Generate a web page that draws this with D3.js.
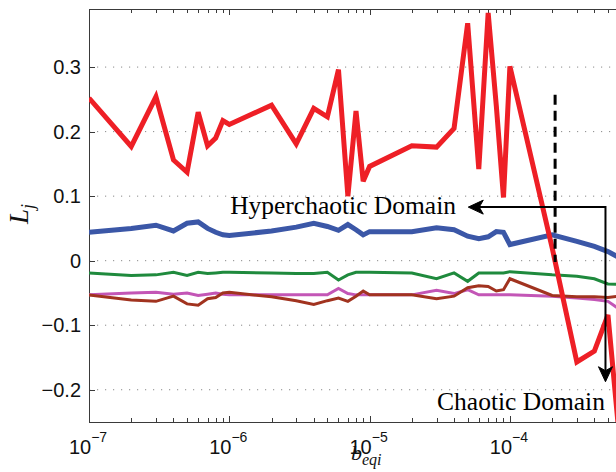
<!DOCTYPE html>
<html>
<head>
<meta charset="utf-8">
<script src="https://cdn.jsdelivr.net/npm/d3@7"></script>
<style>
  body { margin: 0; background: #fff; }
  svg { display: block; }
</style>
</head>
<body>
<svg id="chart" width="616" height="472"></svg>
<script>
// Bifurcation parameter values (b_eqi)
const bValues = [
  1e-7, 2e-7, 3e-7, 4e-7, 5e-7, 6e-7, 7e-7, 8e-7, 9e-7,
  1e-6, 2e-6, 3e-6, 4e-6, 5e-6, 6e-6, 7e-6, 8e-6, 9e-6,
  1e-5, 2e-5, 3e-5, 4e-5, 5e-5, 6e-5, 7e-5, 8e-5, 9e-5,
  1e-4, 2e-4, 3e-4, 4e-4, 5e-4, 6e-4
];

// Lyapunov exponents L1..L5
const L1 = [
  0.252, 0.177, 0.254, 0.156, 0.137, 0.230, 0.178, 0.190, 0.217,
  0.211, 0.241, 0.181, 0.236, 0.223, 0.296, 0.100, 0.232, 0.123,
  0.146, 0.178, 0.176, 0.205, 0.368, 0.142, 0.384, 0.240, 0.098,
  0.301, 0.020, -0.157, -0.140, -0.084, -0.270
];
const L2 = [
  0.044, 0.050, 0.055, 0.046, 0.058, 0.060, 0.050, 0.044, 0.040,
  0.039, 0.046, 0.052, 0.058, 0.053, 0.047, 0.056, 0.048, 0.040,
  0.045, 0.045, 0.051, 0.048, 0.038, 0.034, 0.037, 0.045, 0.044,
  0.025, 0.040, 0.030, 0.022, 0.014, 0.005
];
const L3 = [
  -0.019, -0.023, -0.022, -0.018, -0.023, -0.018, -0.020, -0.019, -0.018,
  -0.018, -0.019, -0.020, -0.020, -0.018, -0.030, -0.022, -0.018, -0.018,
  -0.018, -0.019, -0.028, -0.019, -0.032, -0.019, -0.019, -0.019, -0.019,
  -0.017, -0.022, -0.024, -0.028, -0.036, -0.037
];
const L4 = [
  -0.053, -0.050, -0.049, -0.052, -0.050, -0.054, -0.052, -0.050, -0.052,
  -0.053, -0.053, -0.053, -0.053, -0.053, -0.043, -0.051, -0.053, -0.053,
  -0.053, -0.053, -0.046, -0.051, -0.045, -0.053, -0.053, -0.053, -0.053,
  -0.053, -0.055, -0.058, -0.060, -0.063, -0.075
];
const L5 = [
  -0.053, -0.061, -0.063, -0.055, -0.067, -0.069, -0.059, -0.057, -0.050,
  -0.049, -0.056, -0.062, -0.068, -0.062, -0.058, -0.063, -0.055, -0.047,
  -0.053, -0.053, -0.059, -0.055, -0.042, -0.039, -0.040, -0.047, -0.045,
  -0.028, -0.054, -0.056, -0.056, -0.057, -0.055
];

const yTicks = [-0.2, -0.1, 0, 0.1, 0.2, 0.3];
const yTickLabels = ["\u22120.2", "\u22120.1", "0", "0.1", "0.2", "0.3"];
const xDecades = [-7, -6, -5, -4];

const svg = d3.select("#chart");
const plotLeft = 89, plotTop = 9, plotBottom = 422, plotRight = 650.2;

const x = d3.scaleLog().domain([1e-7, 1e-3]).range([plotLeft, plotRight]);
const y = d3.scaleLinear().domain([-0.25, 0.39]).range([plotBottom, plotTop]);

svg.append("defs").append("clipPath").attr("id", "plot-clip")
  .append("rect").attr("x", plotLeft).attr("y", plotTop)
  .attr("width", plotRight - plotLeft).attr("height", plotBottom - plotTop);

// Horizontal dotted grid
svg.append("g").selectAll("line").data(yTicks).join("line")
  .attr("x1", plotLeft).attr("x2", plotRight)
  .attr("y1", d => y(d)).attr("y2", d => y(d))
  .attr("stroke", "#8a8a8a").attr("stroke-width", 1)
  .attr("stroke-dasharray", "1.2,6.8");

// Axis box lines
const axisColor = "#3a3a3a";
const box = svg.append("g").attr("stroke", axisColor).attr("stroke-width", 1);
box.append("line").attr("x1", plotLeft).attr("x2", plotRight).attr("y1", plotTop + 0.5).attr("y2", plotTop + 0.5);
box.append("line").attr("x1", plotLeft).attr("x2", plotRight).attr("y1", plotBottom + 0.5).attr("y2", plotBottom + 0.5);
box.append("line").attr("x1", plotLeft + 0.5).attr("x2", plotLeft + 0.5).attr("y1", plotTop).attr("y2", plotBottom + 1);

// Log ticks on top and bottom (pointing inward)
const majors = d3.range(-7, -2).map(k => Math.pow(10, k));
const minors = [];
for (let k = -7; k < -3; k++) for (let m = 2; m <= 9; m++) minors.push(m * Math.pow(10, k));
const tickData = majors.map(v => ({v, len: 6})).concat(minors.map(v => ({v, len: 4})));
box.selectAll("line.tb").data(tickData).join("line").attr("class", "tb")
  .attr("x1", d => Math.round(x(d.v)) + 0.5).attr("x2", d => Math.round(x(d.v)) + 0.5)
  .attr("y1", plotBottom).attr("y2", d => plotBottom - d.len);
box.selectAll("line.tt").data(tickData).join("line").attr("class", "tt")
  .attr("x1", d => Math.round(x(d.v)) + 0.5).attr("x2", d => Math.round(x(d.v)) + 0.5)
  .attr("y1", plotTop).attr("y2", d => plotTop + d.len);
box.selectAll("line.tl").data(yTicks).join("line").attr("class", "tl")
  .attr("x1", plotLeft).attr("x2", plotLeft + 6)
  .attr("y1", d => Math.round(y(d)) + 0.5).attr("y2", d => Math.round(y(d)) + 0.5);

// Y tick labels
svg.append("g").selectAll("text").data(yTicks).join("text")
  .attr("x", 81).attr("y", d => y(d) + 7)
  .attr("text-anchor", "end")
  .attr("font-family", "'Liberation Sans', Arial, sans-serif")
  .attr("font-size", 20).attr("fill", "#111")
  .text((d, i) => yTickLabels[i]);

// X tick labels as powers of ten
const xl = svg.append("g").selectAll("text").data(xDecades).join("text")
  .attr("x", d => x(Math.pow(10, d)) - 1).attr("y", 454)
  .attr("text-anchor", "middle")
  .attr("font-family", "'Liberation Sans', Arial, sans-serif")
  .attr("font-size", 20).attr("fill", "#111");
xl.append("tspan").text("10");
xl.append("tspan").attr("dy", -12).attr("font-size", 14).text(d => "\u2212" + Math.abs(d));

// Exponent curves
const series = [
  {vals: L4, color: "#c356b6", w: 3},
  {vals: L5, color: "#a1331f", w: 3},
  {vals: L3, color: "#1f8a3d", w: 3},
  {vals: L2, color: "#3b57a7", w: 5},
  {vals: L1, color: "#ee1f26", w: 5}
];
const line = d3.line().x((d, i) => x(bValues[i])).y(d => y(d));
svg.append("g").attr("clip-path", "url(#plot-clip)")
  .selectAll("path").data(series).join("path")
  .attr("d", s => line(s.vals))
  .attr("fill", "none")
  .attr("stroke", s => s.color)
  .attr("stroke-width", s => s.w)
  .attr("stroke-linejoin", "miter")
  .attr("stroke-miterlimit", 3);

// Domain boundary and annotations
const ann = svg.append("g");
ann.append("line")
  .attr("x1", x(2.1e-4)).attr("x2", x(2.1e-4))
  .attr("y1", y(0.257)).attr("y2", y(-0.002))
  .attr("stroke", "#000").attr("stroke-width", 3)
  .attr("stroke-dasharray", "10,6");

const cornerX = x(4.8e-4), cornerY = y(0.083);
const hTipX = x(5.05e-5), vTipY = y(-0.1876);
ann.append("path")
  .attr("d", `M${hTipX + 10},${cornerY}H${cornerX}V${vTipY - 10}`)
  .attr("fill", "none").attr("stroke", "#000").attr("stroke-width", 2);
// arrowheads
ann.append("path")
  .attr("d", `M${hTipX},${cornerY}l15,-7l-4,7l4,7z`)
  .attr("fill", "#000").attr("stroke", "#000").attr("stroke-width", 1).attr("stroke-linejoin", "round");
ann.append("path")
  .attr("d", `M${cornerX},${vTipY}l-7,-15l7,4l7,-4z`)
  .attr("fill", "#000").attr("stroke", "#000").attr("stroke-width", 1).attr("stroke-linejoin", "round");

ann.append("text")
  .attr("x", x(4.13e-5)).attr("y", y(0.0723))
  .attr("text-anchor", "end")
  .attr("font-family", "'Liberation Serif', 'Times New Roman', serif")
  .attr("font-size", 25.5).attr("fill", "#000")
  .text("Hyperchaotic Domain");
ann.append("text")
  .attr("x", x(4.76e-4)).attr("y", y(-0.2314))
  .attr("text-anchor", "end")
  .attr("font-family", "'Liberation Serif', 'Times New Roman', serif")
  .attr("font-size", 25.5).attr("fill", "#000")
  .text("Chaotic Domain");

// Axis titles
const xt = svg.append("text")
  .attr("x", 351).attr("y", 460)
  .attr("font-family", "'Liberation Serif', 'Times New Roman', serif")
  .attr("font-style", "italic").attr("font-size", 22).attr("fill", "#111");
xt.append("tspan").text("b");
xt.append("tspan").attr("dy", 5).attr("font-size", 16).text("eqi");

const yt = svg.append("text")
  .attr("transform", "translate(28,214) rotate(-90)")
  .attr("text-anchor", "middle")
  .attr("font-family", "'Liberation Serif', 'Times New Roman', serif")
  .attr("font-style", "italic").attr("font-size", 27).attr("fill", "#111");
yt.append("tspan").text("L");
yt.append("tspan").attr("dy", 6).attr("font-size", 18).text("j");
</script>
</body>
</html>
